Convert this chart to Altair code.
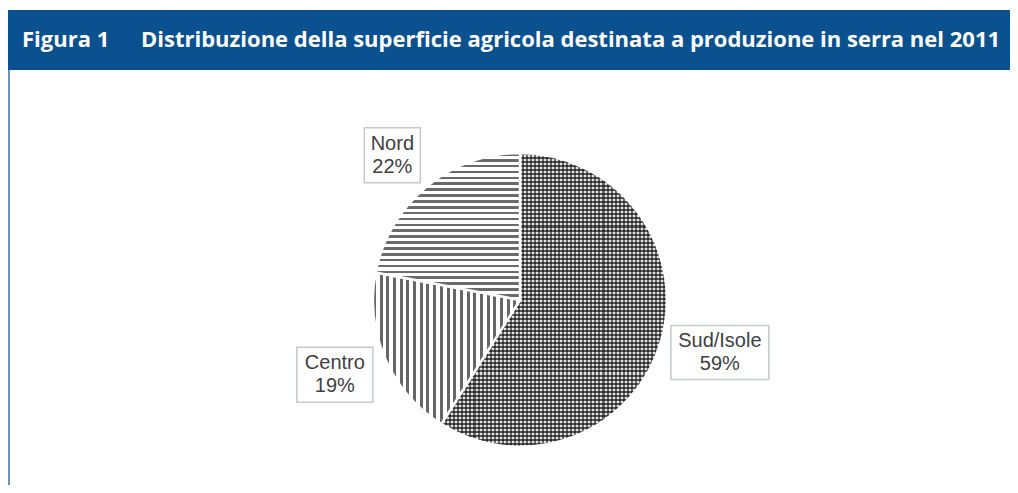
import altair as alt
import pandas as pd

# ---- data ----
regioni = ["Sud/Isole", "Centro", "Nord"]
quote = [59, 19, 22]
ordine = [1, 2, 3]

titolo_num = "Figura 1"
titolo = "Distribuzione della superficie agricola destinata a produzione in serra nel 2011"

df = pd.DataFrame({"regione": regioni, "quota": quote, "ordine": ordine})
one = pd.DataFrame({"k": [0]})

# ---- layout / style ----
W, H = 1002, 477
CX, CY = 512, 292
R = 147
LCX = CX + 3        # label ellipse centre
RX, RY = 205, 188   # label ellipse radii
BLUE = "#0b5190"
TXT = "#404040"
BOX = "#c5c9c9"


def stripes(n, dark, light, frac, horizontal):
    stops = []
    for i in range(n):
        a = i / n
        b = (i + frac) / n
        c = min((i + 1) / n, 1.0)
        stops += [
            alt.GradientStop(color=dark, offset=a),
            alt.GradientStop(color=dark, offset=b),
            alt.GradientStop(color=light, offset=b),
            alt.GradientStop(color=light, offset=c),
        ]
    if horizontal:
        return alt.LinearGradient(gradient="linear", stops=stops, x1=0, y1=0, x2=0, y2=1)
    return alt.LinearGradient(gradient="linear", stops=stops, x1=0, y1=0, x2=1, y2=0)


fill_nord = stripes(25, "#6a6a6a", "#ffffff", 0.45, True)
fill_centro = stripes(22, "#666666", "#ffffff", 0.45, False)
fill_sud_a = stripes(56, "#6e6e6e", "#e2e2e2", 0.5, False)
fill_sud_b = stripes(73, "rgba(0,0,0,0.6)", "rgba(0,0,0,0)", 0.5, True)

theta_scale = alt.Scale(domain=[0, 100])

base = alt.Chart(df).transform_window(
    cum="sum(quota)", sort=[alt.SortField("ordine")], frame=[None, 0]
).transform_calculate(
    start="datum.cum - datum.quota",
    label="datum.regione + '\\n' + datum.quota + '%'",
    bx=f"{LCX} + {RX} * sin(2 * PI * (datum.cum - datum.quota / 2) / 100)",
    by=f"{CY} - {RY} * cos(2 * PI * (datum.cum - datum.quota / 2) / 100)",
)


def wedge(name, fill, stroke_w=2.5):
    return base.transform_filter(alt.datum.regione == name).mark_arc(
        outerRadius=R, fill=fill, stroke="white", strokeWidth=stroke_w
    ).encode(
        theta=alt.Theta("start:Q", scale=theta_scale, stack=None),
        theta2="cum:Q",
        x=alt.value(CX),
        y=alt.value(CY),
    )


wedges = [
    wedge("Sud/Isole", fill_sud_a),
    wedge("Sud/Isole", fill_sud_b),
    wedge("Centro", fill_centro),
    wedge("Nord", fill_nord),
]

box_paths = [
    "M-0.98,-0.54H0.98V0.54H-0.98Z",
    "M-0.76,-0.55H0.76V0.55H-0.76Z",
    "M-0.56,-0.55H0.56V0.55H-0.56Z",
]

boxes = base.mark_point(filled=False, color=BOX, strokeWidth=1.5, size=10000, opacity=1).encode(
    x=alt.X("bx:Q", scale=None, axis=None),
    y=alt.Y("by:Q", scale=None, axis=None),
    shape=alt.Shape("regione:N", scale=alt.Scale(domain=regioni, range=box_paths), legend=None),
)

labels = base.mark_text(
    font="Liberation Sans", fontSize=20, color=TXT, lineBreak="\n", lineHeight=23,
    align="center", baseline="middle", dy=-11.5,
).encode(
    x=alt.X("bx:Q", scale=None, axis=None),
    y=alt.Y("by:Q", scale=None, axis=None),
    text="label:N",
)

band = alt.Chart(one).mark_rect(color=BLUE).encode(
    x=alt.value(0), x2=alt.value(W), y=alt.value(2), y2=alt.value(62)
)
border = alt.Chart(one).mark_rule(color="#3a6fb0", strokeWidth=1.5).encode(
    x=alt.value(1), y=alt.value(62), y2=alt.value(H)
)
t1 = alt.Chart(one).mark_text(
    text=titolo_num, font="Open Sans", fontWeight="bold", fontSize=22, color="white",
    align="left", baseline="middle",
).encode(x=alt.value(14), y=alt.value(32))
t2 = alt.Chart(one).mark_text(
    text=titolo, font="Open Sans", fontWeight="bold", fontSize=22, color="white",
    align="left", baseline="middle",
).encode(x=alt.value(133), y=alt.value(32))

chart = alt.layer(band, border, t1, t2, *wedges, boxes, labels).properties(
    width=W, height=H, padding=0, autosize="none", background="white"
).configure_view(stroke=None)

chart.save("out.html", embed_options={"renderer": "svg", "actions": False})
